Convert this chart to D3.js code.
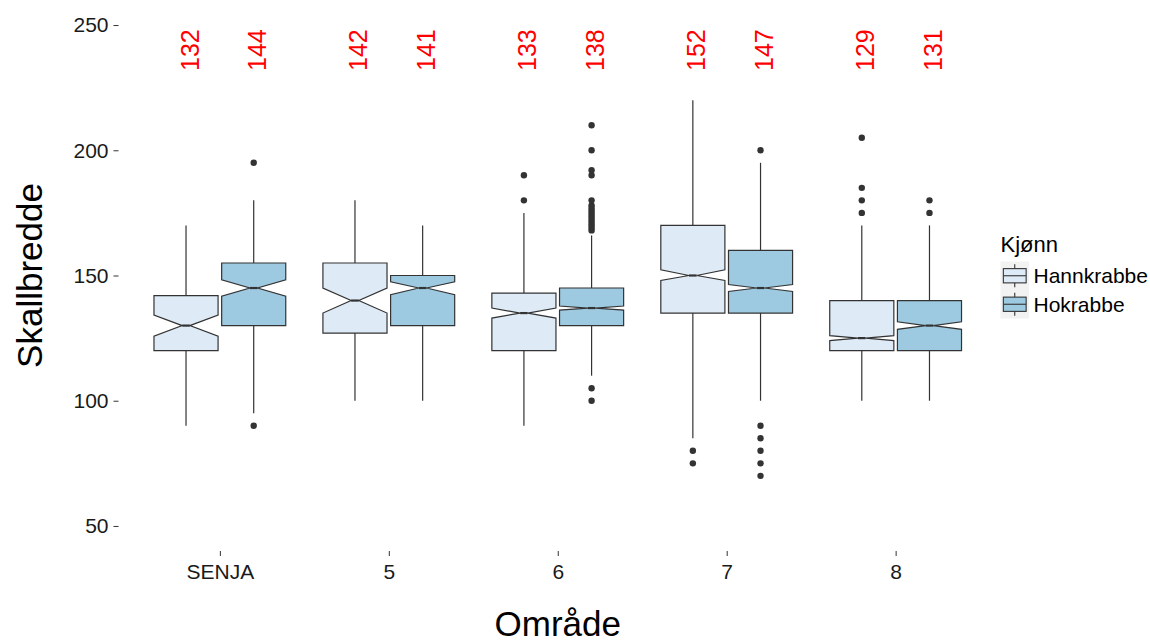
<!DOCTYPE html>
<html>
<head>
<meta charset="utf-8">
<script src="https://cdn.jsdelivr.net/npm/d3@7/dist/d3.min.js"></script>
<style>
    body { margin: 0; background: #fff; }
    svg { display: block; font-family: "Liberation Sans", Arial, sans-serif; }
</style>
</head>
<body>
<svg id="chart" width="1150" height="644"></svg>
<script>
// område og kjønn
const areas = ["SENJA", "5", "6", "7", "8"];
const sexes = ["Hannkrabbe", "Hokrabbe"];
const sexColors = ["#deebf7", "#9ecae1"];

// tall over boksene
const labelHann = [132, 142, 133, 152, 129];
const labelHok = [144, 141, 138, 147, 131];

// boksstatistikk, Hannkrabbe
const hannWhiskerLow = [90, 100, 90, 85, 100];
const hannQ1 = [120, 127, 120, 135, 120];
const hannNotchLow = [125.8, 135, 133, 148, 124];
const hannMedian = [130, 140, 135, 150, 125];
const hannNotchHigh = [134.2, 145, 137, 152.3, 126];
const hannQ3 = [142, 155, 143, 170, 140];
const hannWhiskerHigh = [170, 180, 175, 220, 170];
const hannOutliers = [[], [], [180, 190], [75, 80], [175, 180, 185, 205]];

// boksstatistikk, Hokrabbe
const hokWhiskerLow = [95, 100, 110, 100, 100];
const hokQ1 = [130, 130, 130, 135, 120];
const hokNotchLow = [141.7, 142.3, 136.2, 143.6, 128.5];
const hokMedian = [145, 145, 137, 145, 130];
const hokNotchHigh = [148.3, 147.5, 137.8, 146.4, 131.5];
const hokQ3 = [155, 150, 145, 160, 140];
const hokWhiskerHigh = [180, 170, 166, 195, 170];
const hokOutliers = [
    [90, 195],
    [],
    [100, 105, 168, 169, 170, 171, 172, 173, 174, 175, 176, 177, 178, 180, 190, 192, 200, 210],
    [70, 75, 80, 85, 90, 200],
    [175, 180]
];

const yTicks = [50, 100, 150, 200, 250];
const labelY = 240;

const stats = [
    { lo: hannWhiskerLow, q1: hannQ1, nl: hannNotchLow, med: hannMedian, nh: hannNotchHigh, q3: hannQ3, hi: hannWhiskerHigh, out: hannOutliers, lab: labelHann },
    { lo: hokWhiskerLow, q1: hokQ1, nl: hokNotchLow, med: hokMedian, nh: hokNotchHigh, q3: hokQ3, hi: hokWhiskerHigh, out: hokOutliers, lab: labelHok }
];

const boxes = [];
sexes.forEach((sex, s) => {
    areas.forEach((area, i) => {
        const st = stats[s];
        boxes.push({
            area, sex, s,
            lo: st.lo[i], q1: st.q1[i], nl: st.nl[i], med: st.med[i],
            nh: st.nh[i], q3: st.q3[i], hi: st.hi[i], out: st.out[i], lab: st.lab[i]
        });
    });
});

const svg = d3.select('#chart');
const panel = { left: 118.5, right: 997, top: 0, bottom: 551 };
const ink = '#333333';

const x = d3.scalePoint()
    .domain(areas)
    .range([panel.left, panel.right])
    .padding(0.6);
const step = x.step();

const xs = d3.scaleBand()
    .domain(sexes)
    .range([-0.39 * step, 0.39 * step])
    .paddingInner(0.053);
const bw = xs.bandwidth();

const y = d3.scaleLinear()
    .domain([40, 260])
    .range([panel.bottom, panel.top]);

const color = d3.scaleOrdinal().domain(sexes).range(sexColors);

const cx = d => x(d.area) + xs(d.sex) + bw / 2;

// akser
const yAxis = svg.append('g')
    .attr('transform', `translate(${panel.left},0)`)
    .call(d3.axisLeft(y).tickValues(yTicks).tickSize(5).tickPadding(5));
yAxis.select('.domain').remove();
yAxis.selectAll('line').attr('stroke', ink);
yAxis.selectAll('text')
    .attr('font-size', 21)
    .attr('fill', '#1a1a1a')
    .attr('font-family', '"Liberation Sans", Arial, sans-serif');

const xAxis = svg.append('g')
    .attr('transform', `translate(0,${panel.bottom})`)
    .call(d3.axisBottom(x).tickSize(5).tickPadding(8));
xAxis.select('.domain').remove();
xAxis.selectAll('line').attr('stroke', ink);
xAxis.selectAll('text')
    .attr('font-size', 21)
    .attr('fill', '#1a1a1a')
    .attr('font-family', '"Liberation Sans", Arial, sans-serif');

// bokser
const notchW = 0.12;
const g = svg.append('g');

const boxG = g.selectAll('.box')
    .data(boxes)
    .enter()
    .append('g')
    .attr('class', 'box');

boxG.append('line')
    .attr('x1', cx).attr('x2', cx)
    .attr('y1', d => y(d.hi)).attr('y2', d => y(d.q3))
    .attr('stroke', ink).attr('stroke-width', 1.2);

boxG.append('line')
    .attr('x1', cx).attr('x2', cx)
    .attr('y1', d => y(d.q1)).attr('y2', d => y(d.lo))
    .attr('stroke', ink).attr('stroke-width', 1.2);

boxG.append('path')
    .attr('d', d => {
        const x0 = cx(d) - bw / 2, x1 = cx(d) + bw / 2;
        const inset = bw * (1 - notchW) / 2;
        return d3.line()([
            [x0, y(d.q3)], [x0, y(d.nh)], [x0 + inset, y(d.med)], [x0, y(d.nl)], [x0, y(d.q1)],
            [x1, y(d.q1)], [x1, y(d.nl)], [x1 - inset, y(d.med)], [x1, y(d.nh)], [x1, y(d.q3)]
        ]) + 'Z';
    })
    .attr('fill', d => color(d.sex))
    .attr('stroke', ink)
    .attr('stroke-width', 1.2);

boxG.append('line')
    .attr('x1', d => cx(d) - bw * notchW / 2)
    .attr('x2', d => cx(d) + bw * notchW / 2)
    .attr('y1', d => y(d.med)).attr('y2', d => y(d.med))
    .attr('stroke', ink).attr('stroke-width', 2.2);

boxG.selectAll('.outlier')
    .data(d => d.out.map(v => ({ v, d })))
    .enter()
    .append('circle')
    .attr('class', 'outlier')
    .attr('cx', p => cx(p.d))
    .attr('cy', p => y(p.v))
    .attr('r', 3.2)
    .attr('fill', ink);

// røde tall
g.selectAll('.lab')
    .data(boxes)
    .enter()
    .append('text')
    .attr('class', 'lab')
    .attr('transform', d => `translate(${cx(d)},${y(labelY)}) rotate(-90)`)
    .attr('text-anchor', 'middle')
    .attr('dy', '0.5em')
    .attr('font-size', 25)
    .attr('fill', '#ff0000')
    .text(d => d.lab);

// aksetitler
svg.append('text')
    .attr('transform', `translate(42,${(panel.top + panel.bottom) / 2}) rotate(-90)`)
    .attr('text-anchor', 'middle')
    .attr('font-size', 35)
    .attr('fill', '#000')
    .text('Skallbredde');

svg.append('text')
    .attr('x', (panel.left + panel.right) / 2)
    .attr('y', 636)
    .attr('text-anchor', 'middle')
    .attr('font-size', 35)
    .attr('fill', '#000')
    .text('Område');

// legende
const legend = svg.append('g').attr('transform', 'translate(1000.5,0)');
legend.append('text')
    .attr('x', 0).attr('y', 252)
    .attr('font-size', 22)
    .attr('fill', '#000')
    .text('Kjønn');

const keySize = 28.5;
const keys = legend.selectAll('.key')
    .data(sexes)
    .enter()
    .append('g')
    .attr('class', 'key')
    .attr('transform', (d, i) => `translate(0,${261.5 + i * keySize})`);

keys.append('rect')
    .attr('width', keySize).attr('height', keySize)
    .attr('fill', '#f2f2f2');
keys.append('line')
    .attr('x1', keySize / 2).attr('x2', keySize / 2)
    .attr('y1', keySize * 0.1).attr('y2', keySize * 0.9)
    .attr('stroke', ink).attr('stroke-width', 1.1);
keys.append('rect')
    .attr('x', keySize * 0.1).attr('y', keySize * 0.25)
    .attr('width', keySize * 0.8).attr('height', keySize * 0.5)
    .attr('fill', d => color(d))
    .attr('stroke', ink).attr('stroke-width', 1.1);
keys.append('line')
    .attr('x1', keySize * 0.1).attr('x2', keySize * 0.9)
    .attr('y1', keySize / 2).attr('y2', keySize / 2)
    .attr('stroke', ink).attr('stroke-width', 1.1);
keys.append('text')
    .attr('x', 33).attr('y', keySize / 2)
    .attr('dy', '0.36em')
    .attr('font-size', 21)
    .attr('fill', '#000')
    .text(d => d);
</script>
</body>
</html>
